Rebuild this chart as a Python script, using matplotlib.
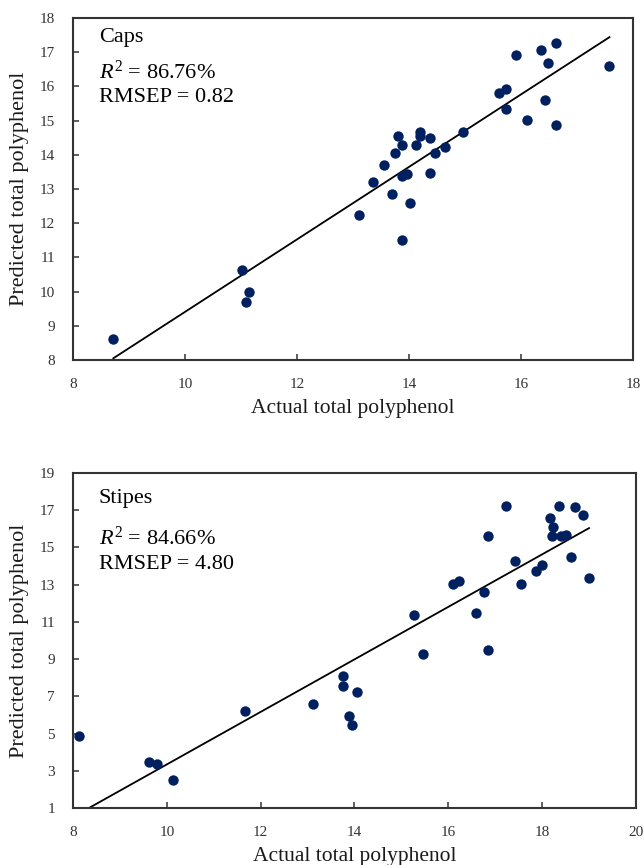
import matplotlib
matplotlib.use("Agg")
import matplotlib.pyplot as plt
import numpy as np

plt.rcParams['font.family'] = ['Liberation Serif', 'DejaVu Serif']
plt.rcParams['mathtext.fontset'] = 'custom'
plt.rcParams['mathtext.it'] = 'Liberation Serif:italic'
plt.rcParams['mathtext.rm'] = 'Liberation Serif'

# ---- Caps data ----
caps_actual = [8.72, 11.01, 11.15, 11.09, 13.11, 13.36, 13.56, 13.69, 13.75, 13.81,
               13.87, 13.87, 13.87, 13.96, 14.01, 14.13, 14.20, 14.20, 14.38, 14.38,
               14.46, 14.64, 14.97, 15.60, 15.73, 15.73, 15.91, 16.11, 16.35, 16.42,
               16.49, 16.62, 16.62, 17.58]
caps_pred = [8.60, 10.63, 10.00, 9.70, 12.23, 13.20, 13.70, 12.86, 14.04, 14.56,
             14.28, 11.52, 13.39, 13.43, 12.60, 14.30, 14.68, 14.56, 14.49, 13.47,
             14.06, 14.23, 14.67, 15.82, 15.93, 15.33, 16.93, 15.02, 17.05, 15.59,
             16.67, 17.28, 14.88, 16.60]
caps_fit_x = [8.72, 17.58]
caps_fit_y = [8.05, 17.44]
caps_xticks = [8, 10, 12, 14, 16, 18]
caps_yticks = [8, 9, 10, 11, 12, 13, 14, 15, 16, 17, 18]

# ---- Stipes data ----
stipes_actual = [8.12, 9.61, 9.78, 10.14, 11.66, 13.11, 13.75, 13.75, 13.88, 13.94,
                 14.06, 15.26, 15.46, 16.10, 16.22, 16.59, 16.77, 16.85, 16.85, 17.23,
                 17.42, 17.55, 17.87, 17.99, 18.16, 18.24, 18.22, 18.36, 18.40, 18.50,
                 18.61, 18.70, 18.87, 18.99]
stipes_pred = [4.86, 3.48, 3.39, 2.49, 6.22, 6.58, 8.10, 7.57, 5.94, 5.45,
               7.21, 11.35, 9.29, 13.06, 13.20, 11.50, 12.63, 15.64, 9.47, 17.25,
               14.29, 13.06, 13.76, 14.04, 16.59, 16.12, 15.60, 17.25, 15.64, 15.69,
               14.48, 17.17, 16.72, 13.35]
stipes_fit_x = [8.34, 19.0]
stipes_fit_y = [1.0, 16.04]
stipes_xticks = [8, 10, 12, 14, 16, 18, 20]
stipes_yticks = [1, 3, 5, 7, 9, 11, 13, 15, 17, 19]

marker_color = '#002060'
text_color = '#1a1a1a'

fig = plt.figure(figsize=(6.44, 8.65), dpi=100)
ax1 = fig.add_axes([73/644, 1-360/865, 560/644, 342/865])
ax2 = fig.add_axes([73/644, 1-808/865, 563/644, 335/865])


def style(ax, xticks, yticks):
    ax.set_xlim(xticks[0], xticks[-1])
    ax.set_ylim(yticks[0], yticks[-1])
    ax.set_xticks(xticks)
    ax.set_yticks(yticks)
    for s in ax.spines.values():
        s.set_linewidth(1.5)
        s.set_color('#333333')
    ax.tick_params(direction='in', length=4, width=1.1, color='#333333',
                   labelsize=11, labelcolor='#333333')
    ax.tick_params(axis='x', pad=13)
    ax.tick_params(axis='y', pad=13)
    ax.set_xlabel('Actual total polyphenol', fontsize=15.5, color=text_color, labelpad=6)
    ax.set_ylabel('Predicted total polyphenol', fontsize=16, color=text_color, labelpad=8)


ann = dict(fontsize=16, va='center', ha='left', color='black')

ax1.scatter(caps_actual, caps_pred, s=56, color=marker_color, zorder=3, linewidths=0)
ax1.plot(caps_fit_x, caps_fit_y, color='black', lw=1.3, zorder=2)
style(ax1, caps_xticks, caps_yticks)
ax1.text(0.046, 0.942, 'Caps', transform=ax1.transAxes, **ann)
ax1.text(0.046, 0.842, r'$R^2$ = 86.76%', transform=ax1.transAxes, **ann)
ax1.text(0.046, 0.769, 'RMSEP = 0.82', transform=ax1.transAxes, **ann)

ax2.scatter(stipes_actual, stipes_pred, s=56, color=marker_color, zorder=3,
            linewidths=0, clip_on=False)
ax2.plot(stipes_fit_x, stipes_fit_y, color='black', lw=1.3, zorder=2)
style(ax2, stipes_xticks, stipes_yticks)
ax2.text(0.046, 0.925, 'Stipes', transform=ax2.transAxes, **ann)
ax2.text(0.046, 0.806, r'$R^2$ = 84.66%', transform=ax2.transAxes, **ann)
ax2.text(0.046, 0.728, 'RMSEP = 4.80', transform=ax2.transAxes, **ann)

fig.savefig('out.png', dpi=100)
